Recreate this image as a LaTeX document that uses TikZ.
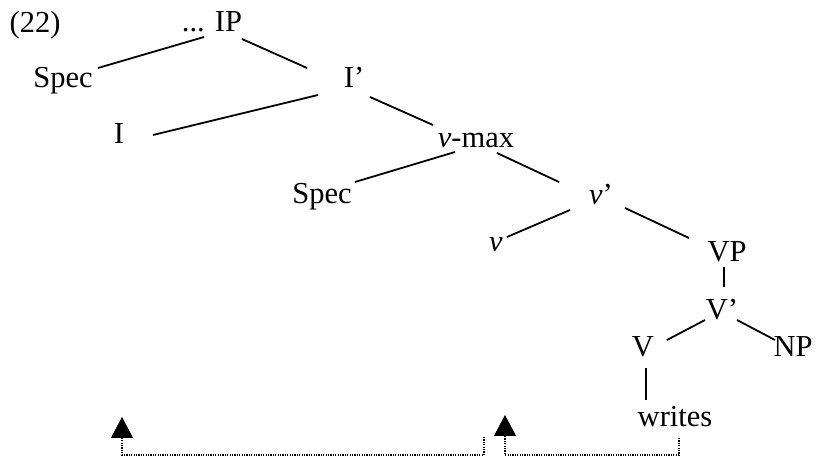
\documentclass[tikz,border=0pt]{standalone}
\usepackage{fontspec}
\setmainfont{Liberation Serif}
\usepackage{tikz}
\usetikzlibrary{arrows.meta,positioning}

\begin{document}
\begin{tikzpicture}
  [x=1pt,y=1pt,
   every node/.style={font=\fontsize{30.5}{36}\selectfont,inner sep=0pt,anchor=base},
   branch/.style={line width=1.8pt},
   trace/.style={line width=1.2pt,dash pattern=on 1.2pt off 1.2pt,
     -{Triangle[width=22pt,length=21pt]}}]
  \useasboundingbox (0,0) rectangle (823,458);
  \node (ex) at (35,425) {(22)};
  \node (ip) at (212,426) {... IP};
  \node (spec1) at (63,370) {Spec};
  \node (ibar) at (354,370) {I'};
  \node (infl) at (119,314) {I};
  \node (vmax) at (476,310) {\textit{v}-max};
  \node (spec2) at (322,254) {Spec};
  \node (vbar) at (601,253) {\textit{v}'};
  \node (vlit) at (496,206) {\textit{v}};
  \node (vp) at (727,196) {VP};
  \node (vbarbar) at (722,138) {V'};
  \node (verb) at (643,101) {V};
  \node (np) at (793,101) {NP};
  \node (writes) at (675,31) {writes};
\foreach \from/\p/\to/\q in {ip/{-8,-5}/spec1/{35,20}, ip/{30,-7}/ibar/{-47,20},
    ibar/{-36,-7}/infl/{34,9}, ibar/{16,-9}/vmax/{-43,23},
    vmax/{-21,-4}/spec2/{33,22}, vmax/{21,-5}/vbar/{-42,23},
    vbar/{-31,-5}/vlit/{11,15}, vbar/{24,-3}/vp/{-38,24},
    vp/{-3,-5}/vbarbar/{2,33}, vbarbar/{-17,0}/verb/{24,17},
    vbarbar/{15,0}/np/{-18,17}, verb/{3,-11}/writes/{-29,27}}
    \draw[branch] ([shift={(\p)}]\from.base) -- ([shift={(\q)}]\to.base);

  \coordinate (vtrace) at (484,21);
  \coordinate (itarget) at (122,41);
  \coordinate (wtrace) at (679,20);
  \coordinate (vtarget) at (505,43);
  \draw[trace] (vtrace) -- ++(0,-18) -| (itarget);
  \draw[trace] (wtrace) -- ++(0,-17) -| (vtarget);
\end{tikzpicture}
\end{document}
